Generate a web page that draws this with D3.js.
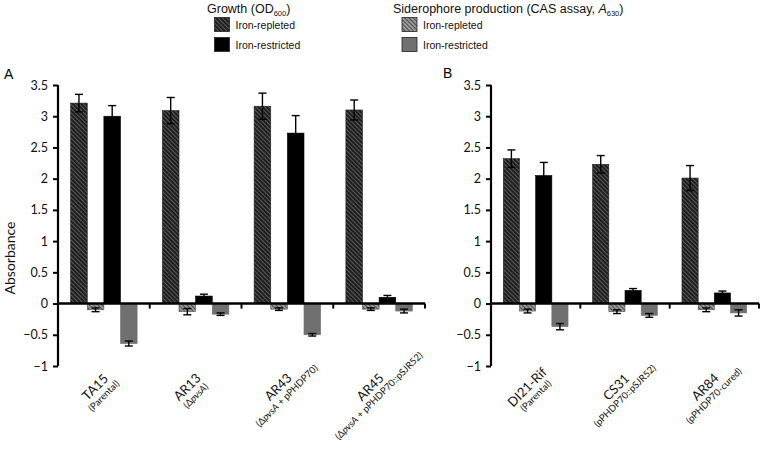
<!DOCTYPE html>
<html><head><meta charset="utf-8">
<script src="https://cdn.jsdelivr.net/npm/d3@7"></script>
<style>
body{margin:0;background:#fff}
#wrap{position:relative;width:760px;height:458px}
svg{display:block;position:absolute;left:0;top:0}
.lab{position:absolute;white-space:nowrap;text-align:center;font-family:Lato,'Open Sans',sans-serif;color:#111;line-height:1;transform-origin:0 0}
.lab .m{font-size:13px;display:block}
.lab .s{font-size:9.5px;display:block;margin-top:1px}
</style>
</head><body>
<div id="wrap"><svg id="c" width="760" height="458"></svg></div>
<script>
// ---- data ----
const seriesKeys = ["growthRepleted","sidRepleted","growthRestricted","sidRestricted"];
const yTicks = [-1,-0.5,0,0.5,1,1.5,2,2.5,3,3.5];

const catA = ["TA15","AR13","AR43","AR45"];
const subA = ["(Parental)","(Δ*pvsA*)","(Δ*pvsA* + pPHDP70)","(Δ*pvsA* + pPHDP70::pSJR52)"];
const growthRepA = [3.21, 3.09, 3.16, 3.10];
const growthRepErrA = [0.14, 0.21, 0.21, 0.16];
const sidRepA = [-0.10, -0.13, -0.09, -0.09];
const sidRepErrA = [0.03, 0.05, 0.02, 0.02];
const growthResA = [3.00, 0.12, 2.73, 0.10];
const growthResErrA = [0.17, 0.03, 0.28, 0.03];
const sidResA = [-0.64, -0.17, -0.50, -0.12];
const sidResErrA = [0.04, 0.02, 0.02, 0.03];

const catB = ["DI21-Rif","CS31","AR84"];
const subB = ["(Parental)","(pPHDP70::pSJR52)","(pPHDP70-cured)"];
const growthRepB = [2.32, 2.23, 2.01];
const growthRepErrB = [0.14, 0.14, 0.20];
const sidRepB = [-0.12, -0.13, -0.10];
const sidRepErrB = [0.03, 0.03, 0.03];
const growthResB = [2.05, 0.21, 0.17];
const growthResErrB = [0.21, 0.03, 0.03];
const sidResB = [-0.37, -0.19, -0.15];
const sidResErrB = [0.05, 0.03, 0.05];

// ---- drawing ----
const svg = d3.select("#c");
const wrap = d3.select("#wrap");
const defs = svg.append("defs");
function hatch(id, bg, line, w) {
  const p = defs.append("pattern").attr("id", id).attr("patternUnits","userSpaceOnUse")
    .attr("width", 3).attr("height", 3).attr("patternTransform","rotate(-45)");
  p.append("rect").attr("width",3).attr("height",3).attr("fill",bg);
  p.append("line").attr("x1",0.5).attr("y1",0).attr("x2",0.5).attr("y2",3).attr("stroke",line).attr("stroke-width",w);
}
hatch("hDark", "#1e1e1e", "#6a6a6a", 0.8);
hatch("hGray", "#9a9a9a", "#4a4a4a", 1.0);
const fills = {growthRepleted:"url(#hDark)", sidRepleted:"url(#hGray)", growthRestricted:"#000", sidRestricted:"#707070"};
const strokes = {growthRepleted:"#1e1e1e", sidRepleted:"#555", growthRestricted:"#000", sidRestricted:"#707070"};

const y = d3.scaleLinear().domain([-1, 3.5]).range([366, 85]);
const tickFont = "Lato, 'Open Sans', sans-serif";

function richHTML(str) {
  return str.split("*").map((part, i) => i % 2 ? "<i>" + part + "</i>" : part).join("");
}

function panel(x0, x1, cats, subs, vals, errs, letter, letterPos, withTitle) {
  const g = svg.append("g");
  const xg = d3.scaleBand().domain(cats).range([x0, x1]).padding(0);
  const xs = d3.scaleBand().domain(seriesKeys).range([0, xg.bandwidth()]).paddingInner(0).paddingOuter(0.76);
  const rows = [];
  cats.forEach((c, i) => seriesKeys.forEach(k => rows.push({c, k, v: vals[k][i], e: errs[k][i]})));
  g.selectAll("rect.bar").data(rows).join("rect").attr("class","bar")
    .attr("x", d => xg(d.c) + xs(d.k))
    .attr("width", xs.bandwidth())
    .attr("y", d => y(Math.max(0, d.v)))
    .attr("height", d => Math.abs(y(d.v) - y(0)))
    .attr("fill", d => fills[d.k])
    .attr("stroke", d => strokes[d.k]).attr("stroke-width", 0.6);
  const eb = g.selectAll("g.err").data(rows).join("g").attr("class","err")
    .attr("stroke","#000").attr("stroke-width",1.4);
  const cx = d => xg(d.c) + xs(d.k) + xs.bandwidth()/2;
  eb.append("line").attr("x1", cx).attr("x2", cx).attr("y1", d => y(d.v - d.e)).attr("y2", d => y(d.v + d.e));
  eb.append("line").attr("x1", d => cx(d) - 4).attr("x2", d => cx(d) + 4).attr("y1", d => y(d.v + d.e)).attr("y2", d => y(d.v + d.e));
  eb.append("line").attr("x1", d => cx(d) - 4).attr("x2", d => cx(d) + 4).attr("y1", d => y(d.v - d.e)).attr("y2", d => y(d.v - d.e));
  const ya = g.append("g").attr("transform", `translate(${x0},0)`)
    .call(d3.axisLeft(y).tickValues(yTicks).tickSize(5).tickPadding(5).tickFormat(d3.format("")));
  ya.select(".domain").attr("stroke-width", 2.2).attr("d", `M0,${y(-1)}V${y(3.5)}`);
  ya.selectAll(".tick line").attr("stroke-width", 2);
  ya.selectAll(".tick text").attr("font-family", tickFont).attr("font-size", 12.5).attr("fill","#111");
  const bounds = cats.map(c => xg(c) + xg.bandwidth());
  const xa = g.append("g");
  xa.append("line").attr("x1", x0).attr("x2", x1).attr("y1", y(0)).attr("y2", y(0))
    .attr("stroke","#000").attr("stroke-width",2.4);
  xa.selectAll("line.t").data(bounds).join("line").attr("class","t")
    .attr("x1", d => d).attr("x2", d => d).attr("y1", y(0)).attr("y2", y(0) + 5)
    .attr("stroke","#000").attr("stroke-width",2);
  // rotated category labels as HTML overlay
  cats.forEach((c, i) => {
    const div = wrap.append("div").attr("class","lab");
    div.append("span").attr("class","m").text(c);
    div.append("span").attr("class","s").html(richHTML(subs[i]));
    const w = div.node().getBoundingClientRect().width;
    const h = div.node().getBoundingClientRect().height;
    // block centre placed relative to group centre
    const gcx = xg(c) + xg.bandwidth()/2 - 8, gcy = 388;
    div.style("left", gcx + "px").style("top", gcy + "px")
      .style("transform", `rotate(-45deg) translate(${-w/2}px,${-h/2 + 4}px)`);
  });
  svg.append("text").attr("x", letterPos[0]).attr("y", letterPos[1])
    .attr("font-family","'Liberation Sans', Arial, sans-serif").attr("font-size", 14).text(letter);
  if (withTitle) {
    svg.append("text").attr("transform", `translate(15,${258}) rotate(-90)`)
      .attr("text-anchor","middle").attr("font-family", tickFont).attr("font-size", 14).attr("fill","#111")
      .text("Absorbance");
  }
}

panel(58, 425, catA, subA,
  {growthRepleted: growthRepA, sidRepleted: sidRepA, growthRestricted: growthResA, sidRestricted: sidResA},
  {growthRepleted: growthRepErrA, sidRepleted: sidRepErrA, growthRestricted: growthResErrA, sidRestricted: sidResErrA},
  "A", [4, 79], true);
panel(491, 759, catB, subB,
  {growthRepleted: growthRepB, sidRepleted: sidRepB, growthRestricted: growthResB, sidRestricted: sidResB},
  {growthRepleted: growthRepErrB, sidRepleted: sidRepErrB, growthRestricted: growthResErrB, sidRestricted: sidResErrB},
  "B", [443, 78], false);

const lf = "'Liberation Sans', Arial, sans-serif";
function legendBlock(x, titleParts, items) {
  const t = svg.append("text").attr("x", titleParts.x).attr("y", 13).attr("font-family", lf).attr("font-size", 12.5).attr("fill","#111");
  titleParts.parts.forEach(p => {
    const ts = t.append("tspan").text(p.t);
    if (p.sub) ts.attr("font-size", 7.5).attr("dy", 3);
    if (p.after) ts.attr("dy", -3);
    if (p.it) ts.attr("font-style","italic");
  });
  items.forEach((it, i) => {
    svg.append("rect").attr("x", x).attr("y", 17.5 + i*20).attr("width", 15).attr("height", 14)
      .attr("fill", fills[it.k]).attr("stroke", "#222").attr("stroke-width", 0.8);
    svg.append("text").attr("x", x + 21).attr("y", 29 + i*20).attr("font-family", lf).attr("font-size", 10.5).attr("fill","#111").text(it.label);
  });
}
legendBlock(214.5, {x: 207, parts: [{t:"Growth (OD"},{t:"600", sub:true},{t:")", after:true}]},
  [{k:"growthRepleted", label:"Iron-repleted"},{k:"growthRestricted", label:"Iron-restricted"}]);
legendBlock(402, {x: 393, parts: [{t:"Siderophore production (CAS assay, "},{t:"A", it:true},{t:"630", sub:true},{t:")", after:true}]},
  [{k:"sidRepleted", label:"Iron-repleted"},{k:"sidRestricted", label:"Iron-restricted"}]);
</script>
</body></html>
